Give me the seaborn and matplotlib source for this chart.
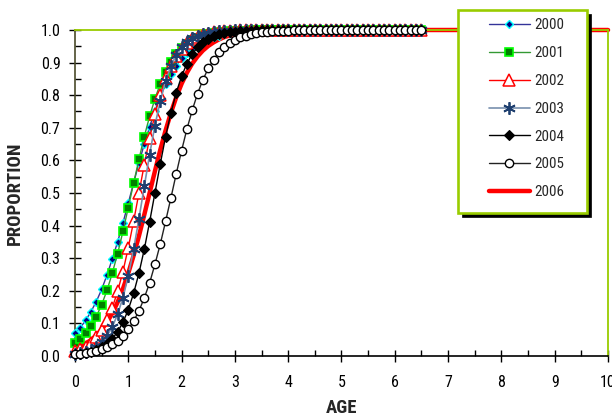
import numpy as np
import pandas as pd
import seaborn as sns
import matplotlib.pyplot as plt
from matplotlib.patches import Rectangle
from matplotlib.ticker import MultipleLocator, FormatStrFormatter

# ages (0.0 .. 6.5 by 0.1) for the marker series
ages = [0.0, 0.1, 0.2, 0.3, 0.4, 0.5, 0.6, 0.7, 0.8, 0.9,
        1.0, 1.1, 1.2, 1.3, 1.4, 1.5, 1.6, 1.7, 1.8, 1.9,
        2.0, 2.1, 2.2, 2.3, 2.4, 2.5, 2.6, 2.7, 2.8, 2.9,
        3.0, 3.1, 3.2, 3.3, 3.4, 3.5, 3.6, 3.7, 3.8, 3.9,
        4.0, 4.1, 4.2, 4.3, 4.4, 4.5, 4.6, 4.7, 4.8, 4.9,
        5.0, 5.1, 5.2, 5.3, 5.4, 5.5, 5.6, 5.7, 5.8, 5.9,
        6.0, 6.1, 6.2, 6.3, 6.4, 6.5]

p2000 = [0.070, 0.087, 0.109, 0.136, 0.167, 0.204, 0.248, 0.298, 0.350, 0.408,
         0.469, 0.531, 0.592, 0.650, 0.702, 0.752, 0.796, 0.833, 0.864, 0.891,
         0.913, 0.930, 0.945, 0.956, 0.965, 0.973, 0.979, 0.983, 0.987, 0.990,
         0.992, 0.994, 0.995, 0.996, 0.997, 0.998, 0.998, 0.999, 0.999, 1.0,
         1.0, 1.0, 1.0, 1.0, 1.0, 1.0, 1.0, 1.0, 1.0, 1.0,
         1.0, 1.0, 1.0, 1.0, 1.0, 1.0, 1.0, 1.0, 1.0, 1.0,
         1.0, 1.0, 1.0, 1.0, 1.0, 1.0]
p2001 = [0.040, 0.053, 0.070, 0.093, 0.121, 0.157, 0.201, 0.254, 0.314, 0.382,
         0.455, 0.530, 0.603, 0.673, 0.735, 0.789, 0.835, 0.872, 0.902, 0.926,
         0.944, 0.958, 0.968, 0.976, 0.982, 0.987, 0.990, 0.993, 0.995, 0.996,
         0.997, 0.998, 0.998, 0.999, 0.999, 1.0, 1.0, 1.0, 1.0, 1.0,
         1.0, 1.0, 1.0, 1.0, 1.0, 1.0, 1.0, 1.0, 1.0, 1.0,
         1.0, 1.0, 1.0, 1.0, 1.0, 1.0, 1.0, 1.0, 1.0, 1.0,
         1.0, 1.0, 1.0, 1.0, 1.0, 1.0]
p2002 = [0.015, 0.021, 0.029, 0.041, 0.057, 0.079, 0.109, 0.148, 0.198, 0.259,
         0.332, 0.413, 0.500, 0.587, 0.668, 0.741, 0.802, 0.852, 0.891, 0.921,
         0.943, 0.959, 0.971, 0.979, 0.985, 0.989, 0.993, 0.995, 0.996, 0.997,
         0.998, 0.999, 0.999, 1.0, 1.0, 1.0, 1.0, 1.0, 1.0, 1.0,
         1.0, 1.0, 1.0, 1.0, 1.0, 1.0, 1.0, 1.0, 1.0, 1.0,
         1.0, 1.0, 1.0, 1.0, 1.0, 1.0, 1.0, 1.0, 1.0, 1.0,
         1.0, 1.0, 1.0, 1.0, 1.0, 1.0]
p2003 = [0.006, 0.009, 0.013, 0.019, 0.029, 0.042, 0.062, 0.089, 0.128, 0.179,
         0.246, 0.327, 0.421, 0.520, 0.618, 0.707, 0.782, 0.843, 0.889, 0.923,
         0.947, 0.964, 0.975, 0.983, 0.989, 0.992, 0.995, 0.997, 0.998, 0.998,
         0.999, 0.999, 1.0, 1.0, 1.0, 1.0, 1.0, 1.0, 1.0, 1.0,
         1.0, 1.0, 1.0, 1.0, 1.0, 1.0, 1.0, 1.0, 1.0, 1.0,
         1.0, 1.0, 1.0, 1.0, 1.0, 1.0, 1.0, 1.0, 1.0, 1.0,
         1.0, 1.0, 1.0, 1.0, 1.0, 1.0]
p2004 = [0.005, 0.007, 0.009, 0.013, 0.019, 0.027, 0.038, 0.053, 0.074, 0.103,
         0.142, 0.192, 0.254, 0.327, 0.411, 0.500, 0.589, 0.673, 0.746, 0.808,
         0.858, 0.897, 0.926, 0.947, 0.962, 0.973, 0.981, 0.987, 0.991, 0.994,
         0.995, 0.997, 0.998, 0.998, 0.999, 0.999, 1.0, 1.0, 1.0, 1.0,
         1.0, 1.0, 1.0, 1.0, 1.0, 1.0, 1.0, 1.0, 1.0, 1.0,
         1.0, 1.0, 1.0, 1.0, 1.0, 1.0, 1.0, 1.0, 1.0, 1.0,
         1.0, 1.0, 1.0, 1.0, 1.0, 1.0]
p2005 = [0.005, 0.006, 0.008, 0.011, 0.015, 0.020, 0.027, 0.036, 0.047, 0.062,
         0.082, 0.107, 0.138, 0.178, 0.224, 0.281, 0.343, 0.413, 0.485, 0.559,
         0.630, 0.696, 0.754, 0.805, 0.847, 0.882, 0.909, 0.931, 0.947, 0.960,
         0.970, 0.978, 0.983, 0.988, 0.991, 0.993, 0.995, 0.996, 0.997, 0.998,
         0.998, 0.999, 0.999, 1.0, 1.0, 1.0, 1.0, 1.0, 1.0, 1.0,
         1.0, 1.0, 1.0, 1.0, 1.0, 1.0, 1.0, 1.0, 1.0, 1.0,
         1.0, 1.0, 1.0, 1.0, 1.0, 1.0]

# 2006 is a plain line running out to age 10
ages_2006 = [0.0, 0.1, 0.2, 0.3, 0.4, 0.5, 0.6, 0.7, 0.8, 0.9,
             1.0, 1.1, 1.2, 1.3, 1.4, 1.5, 1.6, 1.7, 1.8, 1.9,
             2.0, 2.1, 2.2, 2.3, 2.4, 2.5, 2.6, 2.7, 2.8, 2.9,
             3.0, 3.1, 3.2, 3.3, 3.4, 3.5, 3.6, 3.7, 3.8, 3.9,
             4.0, 10.0]
p2006 = [0.022, 0.029, 0.038, 0.049, 0.063, 0.081, 0.103, 0.131, 0.165, 0.206,
         0.254, 0.308, 0.368, 0.433, 0.500, 0.567, 0.632, 0.692, 0.746, 0.794,
         0.835, 0.869, 0.897, 0.919, 0.937, 0.951, 0.962, 0.971, 0.978, 0.983,
         0.987, 0.990, 0.992, 0.994, 0.996, 0.997, 0.997, 0.998, 0.998, 0.999,
         1.0, 1.0]

years = ['2000', '2001', '2002', '2003', '2004', '2005', '2006']

sns.set_style('white')
plt.rcParams['font.family'] = ['Roboto Condensed', 'DejaVu Sans']

fig = plt.figure(figsize=(6.12, 4.19), dpi=100)
ax = fig.add_axes([0.1225, 0.1504, 0.8710, 0.7780])

green = '#99CC00'
handles = {}

# red 2006 line goes under the markers
sns.lineplot(x=ages_2006, y=p2006, ax=ax, color='#FF0000', linewidth=3.2,
             clip_on=False, zorder=2, label='2006')
handles['2006'] = ax.lines[-1]

styles = [
    ('2000', p2000, dict(color='#333399', marker='D', markersize=3.8, markerfacecolor='#000080',
                         markeredgecolor='#00FFFF', markeredgewidth=1.0, linewidth=1.0)),
    ('2001', p2001, dict(color='#339933', marker='s', markersize=5.5, markerfacecolor='#008000',
                         markeredgecolor='#00FF00', markeredgewidth=1.2, linewidth=1.0)),
    ('2002', p2002, dict(color='#FF0000', marker='^', markersize=8.5, markerfacecolor='white',
                         markeredgecolor='#FF0000', markeredgewidth=1.1, linewidth=1.0)),
    ('2003', p2003, dict(color='#7890AE', marker=(6, 2, 0), markersize=9, markerfacecolor='#1F3F6F',
                         markeredgecolor='#1F3F6F', markeredgewidth=1.3, linewidth=1.2)),
    ('2004', p2004, dict(color='black', marker='D', markersize=5.2, markerfacecolor='black',
                         markeredgecolor='black', markeredgewidth=0.8, linewidth=1.0)),
    ('2005', p2005, dict(color='#222222', marker='o', markersize=6.0, markerfacecolor='white',
                         markeredgecolor='black', markeredgewidth=1.0, linewidth=1.0)),
]
for i, (yr, vals, kw) in enumerate(styles):
    sns.lineplot(x=ages, y=vals, ax=ax, clip_on=False, zorder=3 + i, label=yr, **kw)
    handles[yr] = ax.lines[-1]

ax.get_legend().remove()

ax.set_xlim(0, 10)
ax.set_ylim(0, 1.0)
ax.xaxis.set_major_locator(MultipleLocator(1))
ax.xaxis.set_minor_locator(MultipleLocator(0.5))
ax.yaxis.set_major_locator(MultipleLocator(0.1))
ax.yaxis.set_minor_locator(MultipleLocator(0.05))
ax.yaxis.set_major_formatter(FormatStrFormatter('%.1f'))

ax.tick_params(axis='both', which='major', direction='inout', length=9, width=1.0,
               color='black', labelsize=11.5, labelcolor='black')
ax.tick_params(axis='both', which='minor', direction='in', length=4, width=1.0, color='black')
ax.tick_params(axis='x', which='major', pad=9)
ax.tick_params(axis='y', which='major', pad=6)
ax.tick_params(axis='both', which='both', bottom=True, left=True, top=False, right=False)

for side in ['top', 'right']:
    ax.spines[side].set_color(green)
    ax.spines[side].set_linewidth(1.3)
for side in ['left', 'bottom']:
    ax.spines[side].set_color('black')
    ax.spines[side].set_linewidth(1.2)
ax.spines['left'].set_color('#4A4A2A')

ax.set_xlabel('AGE', fontsize=13.5, fontweight='bold')
ax.set_ylabel('PROPORTION', fontsize=13.5, fontweight='bold')
ax.xaxis.set_label_coords(0.5, -0.133)
ax.yaxis.set_label_coords(-0.095, 0.5)

# legend box with a black drop shadow, drawn in figure pixels
W, H = 612.0, 419.0
shadow = Rectangle((462.0 / W, 1 - 217.0 / H), 128.5 / W, 202.7 / H,
                   transform=fig.transFigure, facecolor='black',
                   edgecolor='black', linewidth=0.5, zorder=10)
box = Rectangle((458.3 / W, 1 - 212.7 / H), 128.5 / W, 202.7 / H,
                transform=fig.transFigure, facecolor='white',
                edgecolor=green, linewidth=1.9, zorder=11)
fig.add_artist(shadow)
fig.add_artist(box)

leg = fig.legend([handles[y] for y in years], years,
                 loc='center left', bbox_to_anchor=(489 / W, 1 - 108.9 / H),
                 fontsize=10.8, handlelength=2.73, labelspacing=0.92,
                 borderpad=0.0, borderaxespad=0.0, handletextpad=0.3,
                 frameon=False)
leg.set_zorder(20)

fig.savefig('out.png', dpi=100)
